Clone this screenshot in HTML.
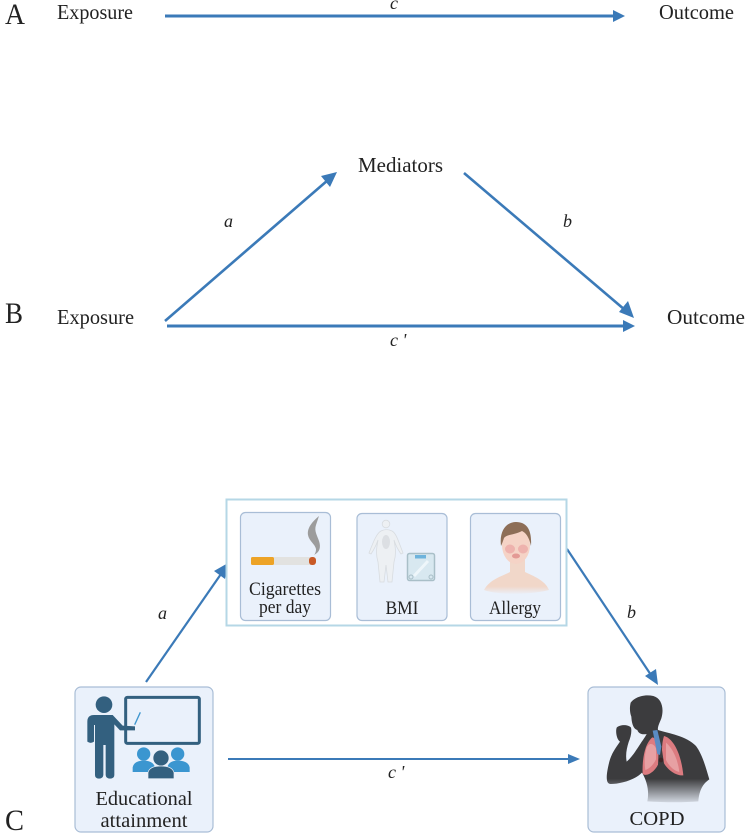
<!DOCTYPE html>
<html><head><meta charset="utf-8"><style>
html,body{margin:0;padding:0;background:#fff;width:750px;height:838px;overflow:hidden}
svg{display:block}
text{font-family:"Liberation Serif",serif;fill:#222}
</style></head><body>
<svg width="750" height="838" viewBox="0 0 750 838" xmlns="http://www.w3.org/2000/svg">
<defs>
<linearGradient id="fade" x1="0" y1="0" x2="0" y2="1"><stop offset="0" stop-color="#3c3c3e"/><stop offset=".78" stop-color="#3c3c3e"/><stop offset="1" stop-color="#3c3c3e" stop-opacity=".15"/></linearGradient>
<linearGradient id="skin" x1="0" y1="0" x2="0" y2="1"><stop offset="0" stop-color="#f1d7c9"/><stop offset=".8" stop-color="#f1d7c9"/><stop offset="1" stop-color="#f1d7c9" stop-opacity=".1"/></linearGradient>
</defs>
<g font-size="21">
<text x="5" y="24" font-size="30" textLength="20" lengthAdjust="spacingAndGlyphs">A</text>
<text x="57" y="19" textLength="76" lengthAdjust="spacingAndGlyphs">Exposure</text>
<text x="659" y="19" textLength="75" lengthAdjust="spacingAndGlyphs">Outcome</text>
<text x="390" y="9" font-size="18" font-style="italic">c</text>
<text x="5" y="323" font-size="30" textLength="18" lengthAdjust="spacingAndGlyphs">B</text>
<text x="57" y="324" textLength="77" lengthAdjust="spacingAndGlyphs">Exposure</text>
<text x="667" y="324" textLength="78" lengthAdjust="spacingAndGlyphs">Outcome</text>
<text x="358" y="172" textLength="85" lengthAdjust="spacingAndGlyphs">Mediators</text>
<text x="224" y="227" font-size="18" font-style="italic">a</text>
<text x="563" y="227" font-size="18" font-style="italic">b</text>
<text x="390" y="346" font-size="18" font-style="italic" xml:space="preserve">c '</text>
<text x="5" y="830" font-size="30" textLength="19" lengthAdjust="spacingAndGlyphs">C</text>
<text x="158" y="619" font-size="18" font-style="italic">a</text>
<text x="627" y="618" font-size="18" font-style="italic">b</text>
<text x="388" y="778" font-size="18" font-style="italic" xml:space="preserve">c '</text>
</g>

<!-- connectors -->
<g stroke="#3b7ab8" fill="none">
<path d="M165 16H614" stroke-width="3"/>
<path d="M165 321L328 180" stroke-width="2.6"/>
<path d="M464 173L625 310" stroke-width="2.6"/>
<path d="M167 326H624" stroke-width="3"/>
<path d="M146 682L221 574" stroke-width="2.2"/>
<path d="M567 549L651 675" stroke-width="2.2"/>
<path d="M228 759H570" stroke-width="2"/>
</g>
<g fill="#3b7ab8">
<path d="M625 16L613 10V22Z"/>
<path d="M337 172L330 187L321 176Z"/>
<path d="M634 318L619 312L628 301Z"/>
<path d="M635 326L623 320V332Z"/>
<path d="M228 563L225 579L214 571Z"/>
<path d="M658 685L645 676L656 669Z"/>
<path d="M580 759L568 754V764Z"/>
</g>

<!-- container -->
<rect x="226.500" y="499.500" width="340" height="126" fill="#fff" stroke="#b5d7e6" stroke-width="2"/>
<g fill="#eaf1fb" stroke="#a9bdd6" stroke-width="1.200">
<rect x="240.500" y="512.500" width="90" height="108" rx="5"/>
<rect x="357" y="513.500" width="90" height="107" rx="5"/>
<rect x="470.500" y="513.500" width="90" height="107" rx="5"/>
<rect x="75" y="687" width="138" height="145" rx="6"/>
<rect x="588" y="687" width="137" height="145" rx="6"/>
</g>

<!-- Cigarette -->
<rect x="274" y="557" width="38" height="8" fill="#e2e2e0"/>
<rect x="251" y="557" width="23" height="8" rx="1.500" fill="#eda326"/>
<rect x="309" y="557" width="7" height="8" rx="3" fill="#c95a26"/>
<path d="M319 516C312 522 307 528 308 535C309 541 315 544 316 549C316 552 315 554 314 555C320 552 321 547 319 541C317 535 314 531 316 525C317 522 318 519 319 516Z" fill="#9c9c9c"/>

<!-- BMI body -->
<g fill="#edf0f3" stroke="#d8dce0" stroke-width=".8">
<circle cx="386" cy="524" r="3.800"/>
<path d="M381 531C385 529 388 529 392 531C396 533 398 540 403 553L401 554C396 547 395 543 394 540C396 550 396 555 394 562L392 582H388L386 565L384 582H380L378 562C376 555 376 550 378 540C377 543 375 548 371 554L369 553C374 540 377 533 381 531Z"/>
</g>
<ellipse cx="386" cy="542" rx="4" ry="7" fill="#dcdfe3"/>
<rect x="407.500" y="553.500" width="27" height="27" rx="2" fill="#d8e8f0" stroke="#a9bfc8" stroke-width="1.500"/>
<rect x="415" y="555" width="11" height="3.500" fill="#6eb3dc"/>
<circle cx="411" cy="577" r="2" fill="none" stroke="#a9bfc8"/>
<circle cx="431" cy="577" r="2" fill="none" stroke="#a9bfc8"/>
<path d="M414 576L428 561" stroke="#eef6fa" stroke-width="3"/>

<!-- Allergy face -->
<path d="M484 590C490 579 503 576 510 572V557H525V572C533 576 545 580 549 590C535 594 500 596 484 590Z" fill="url(#skin)"/>
<ellipse cx="516" cy="545" rx="14" ry="19" fill="#f5d3c6"/>
<path d="M501 546C499 530 507 522 516 522C527 522 532 530 531 546C529 537 526 533 522 531C515 535 507 534 504 538C503 541 502 544 501 546Z" fill="#8d6e57"/>
<ellipse cx="510" cy="549" rx="5" ry="4.500" fill="#eeb2ad"/>
<ellipse cx="523" cy="549" rx="5" ry="4.500" fill="#eeb2ad"/>
<ellipse cx="516" cy="556" rx="4" ry="2.500" fill="#e39a95"/>

<!-- Teacher -->
<g transform="translate(60 680) scale(.33333)">
<circle cx="132" cy="74" r="25" fill="#33607f"/>
<path d="M82 185V125Q82 105 102 105H158L188 137L225 139V151H180L163 133V285Q163 296 150 296Q138 296 137 285V195H130V285Q129 296 117 296Q105 296 105 285V135H102V185Q92 192 82 185Z" fill="#33607f"/>
<rect x="197" y="52" width="221" height="138" rx="5" fill="none" stroke="#33607f" stroke-width="9"/>
<path d="M224 134L241 97" stroke="#3f97cf" stroke-width="4" fill="none"/>
<circle cx="251" cy="222" r="20" fill="#3b96d0"/>
<circle cx="353" cy="222" r="20" fill="#3b96d0"/>
<path d="M218 276V262Q222 242 251 242Q280 242 285 262V276Z" fill="#3b96d0"/>
<path d="M322 276V262Q326 242 353 242Q385 242 389 262V276Z" fill="#3b96d0"/>
<circle cx="303" cy="234" r="24" fill="#33607f" stroke="#eaf1fb" stroke-width="2"/>
<path d="M264 296V278Q268 258 303 258Q337 258 342 278V296Z" fill="#33607f" stroke="#eaf1fb" stroke-width="2"/>
</g>

<!-- COPD figure -->
<g transform="translate(570 680) scale(.33333)">
<path d="M182 68C195 50 225 42 250 48C275 55 283 85 274 115C268 130 262 142 264 150C295 160 350 168 378 198C398 225 408 265 418 298C398 312 388 330 385 364C340 368 280 367 232 364C238 335 232 305 216 278C195 300 150 312 122 312C106 312 108 285 118 245C124 222 136 205 150 185C140 178 136 155 140 143C150 133 175 133 183 143C186 155 182 172 176 186C170 205 166 225 170 245C185 232 198 212 212 190C220 178 226 170 230 162C215 165 205 160 202 150C190 147 185 130 184 110C180 100 178 85 182 68Z" fill="url(#fade)"/>
<path d="M247 172C225 190 216 235 218 282C232 292 256 272 264 254L266 208C264 188 256 172 247 172Z" fill="#dc7b80"/>
<path d="M282 168C312 176 334 225 340 286C320 288 295 272 282 250L276 210C276 195 278 180 282 168Z" fill="#dc7b80"/>
<path d="M230 203C223 225 223 250 226 270C240 266 253 250 258 238V205C250 188 236 188 230 203Z" fill="#e7a0a3"/>
<path d="M288 188C308 205 324 240 328 276C310 272 295 255 288 240Z" fill="#e7a0a3"/>
<path d="M248 152L262 150L274 200L270 225L262 222Z" fill="#5a8cc4"/>
<circle cx="273" cy="240" r="7" fill="#3b2526"/>
</g>

<!-- Card labels -->
<g font-size="18.500" text-anchor="middle">
<text x="285" y="595" textLength="72" lengthAdjust="spacingAndGlyphs">Cigarettes</text>
<text x="285" y="613" textLength="52" lengthAdjust="spacingAndGlyphs">per day</text>
<text x="402" y="614" textLength="33" lengthAdjust="spacingAndGlyphs">BMI</text>
<text x="515" y="614" textLength="52" lengthAdjust="spacingAndGlyphs">Allergy</text>
</g>
<g font-size="20" text-anchor="middle">
<text x="144" y="805" textLength="97" lengthAdjust="spacingAndGlyphs">Educational</text>
<text x="144" y="827" textLength="87" lengthAdjust="spacingAndGlyphs">attainment</text>
<text x="657" y="825" textLength="55" lengthAdjust="spacingAndGlyphs">COPD</text>
</g>
</svg>
</body></html>
